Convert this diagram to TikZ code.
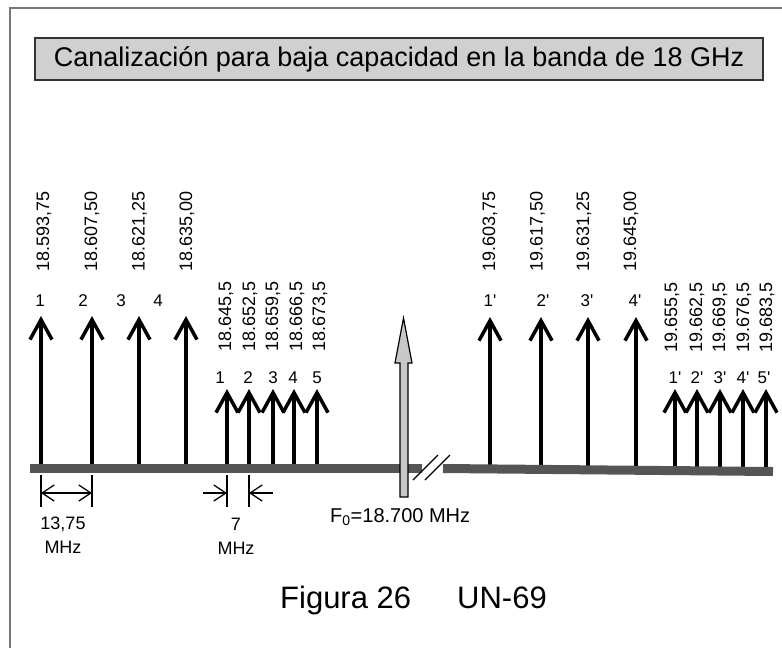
\documentclass[tikz,border=0pt]{standalone}
\usepackage{fontspec}
\setmainfont{Liberation Sans}
\usetikzlibrary{arrows.meta}
\definecolor{axisgray}{HTML}{555555}
\definecolor{boxgray}{HTML}{D0D0D0}
\definecolor{framegray}{HTML}{777777}
\definecolor{carriergray}{HTML}{C8C8C8}

\begin{document}
\begin{tikzpicture}[
    x=1pt, y=-1pt,
    titlebox/.style={rectangle, draw=black!80, line width=1.5pt, fill=boxgray,
                  minimum width=728pt, minimum height=42pt, inner sep=0pt,
                  font=\fontsize{27}{30}\selectfont},
    freq/.style={rotate=90, anchor=west, inner sep=0pt, font=\fontsize{18}{20}\selectfont},
    num/.style={inner sep=0pt, font=\fontsize{17}{20}\selectfont},
    dimlabel/.style={inner sep=0pt, align=center, font=\fontsize{18}{24}\selectfont},
    chan/.style={-{Straight Barb[length=20pt, width=22pt]}, line width=3.5pt},
    dimarr/.style={-{Straight Barb[length=12pt, width=16pt]}, line width=1.3pt},
    dimboth/.style={{Straight Barb[length=12pt, width=16pt]}-{Straight Barb[length=12pt, width=16pt]},
                  line width=1.3pt},
    thin/.style={line width=1.3pt},
    axis/.style={line width=9pt, draw=axisgray},
    caption/.style={inner sep=0pt, anchor=base west, font=\fontsize{31}{34}\selectfont}
]
\useasboundingbox (0,0) rectangle (782,648);
\draw[framegray, line width=2pt] (782,7.5) -| (9.5,648);
\node[titlebox] (title) at (399,59) {Canalización para baja capacidad en la banda de 18 GHz};

% lower half of the band
\foreach \x/\lx/\f/\nx/\n in {41/44/{18.593,75}/40/1, 92/92/{18.607,50}/83/2,
        139/139.5/{18.621,25}/121/3, 186/187/{18.635,00}/158/4}{
  \draw[chan] (\x,470) -- (\x,316);
  \node[freq] (lf\n) at (\lx,272) {\f};
  \node[num] (ln\n) at (\nx,301) {\n};
}
\foreach \x/\lx/\f/\nx/\n in {227/226/{18.645,5}/220/1, 249/250/{18.652,5}/248/2,
        273/273/{18.659,5}/273/3, 294/297/{18.666,5}/293/4, 317/320/{18.673,5}/317/5}{
  \draw[chan] (\x,470) -- (\x,389);
  \node[freq] (sf\n) at (\lx,352) {\f};
  \node[num] (sn\n) at (\nx,378) {\n};
}

% upper half of the band
\foreach \x/\lx/\f/\nx/\n in {490/490/{19.603,75}/490/1, 541/537.5/{19.617,50}/543/2,
        588/584/{19.631,25}/587/3, 636/631/{19.645,00}/635/4}{
  \draw[chan] (\x,472) -- (\x,317);
  \node[freq] (rf\n) at (\lx,272) {\f};
  \node[num] (rn\n) at (\nx,301) {\n\textquotesingle};
}
\foreach \x/\lx/\f/\nx/\n in {675/672/{19.655,5}/675/1, 697/697/{19.662,5}/697/2,
        720/720/{19.669,5}/720/3, 743/744/{19.676,5}/743/4, 766/767/{19.683,5}/764/5}{
  \draw[chan] (\x,472) -- (\x,389);
  \node[freq] (tf\n) at (\lx,353) {\f};
  \node[num] (tn\n) at (\nx,378) {\n\textquotesingle};
}

% frequency axis with break
\draw[axis] (30,468) -- (422,468);
\draw[axis] (443,468.5) -- (773,471.5);
\draw[thin] (413,480) -- (438,455);
\draw[thin] (425,480) -- (450,455);

% centre frequency
\draw[line width=1.2pt, fill=carriergray] (400,497) -- (400,363) -- (395,363) -- (403.5,318)
  -- (412,363) -- (408,363) -- (408,497) -- cycle;
\node[inner sep=0pt, anchor=base west, font=\fontsize{20}{22}\selectfont] (f0) at (330,522)
  {F\textsubscript{0}=18.700 MHz};

% spacings
\coordinate (a1) at (41,493);
\coordinate (a2) at (92,493);
\coordinate (b0) at (203,493);
\coordinate (b1) at (227,493);
\coordinate (b2) at (249,493);
\coordinate (b3) at (273,493);
\draw[thin] (41,475) -- (41,507);
\draw[thin] (92,475) -- (92,507);
\draw[thin] (227,475) -- (227,507);
\draw[thin] (249,475) -- (249,507);
\draw[dimboth] (a1) -- (a2);
\draw[dimarr] (b0) -- (b1);
\draw[dimarr] (b3) -- (b2);
\node[dimlabel] (wide) at (63,535) {13,75\\MHz};
\node[dimlabel] (narrow) at (236,536) {7\\MHz};

\node[caption] (fig) at (280,608) {Figura 26};
\node[caption] (ref) at (457,608) {UN-69};
\end{tikzpicture}
\end{document}
